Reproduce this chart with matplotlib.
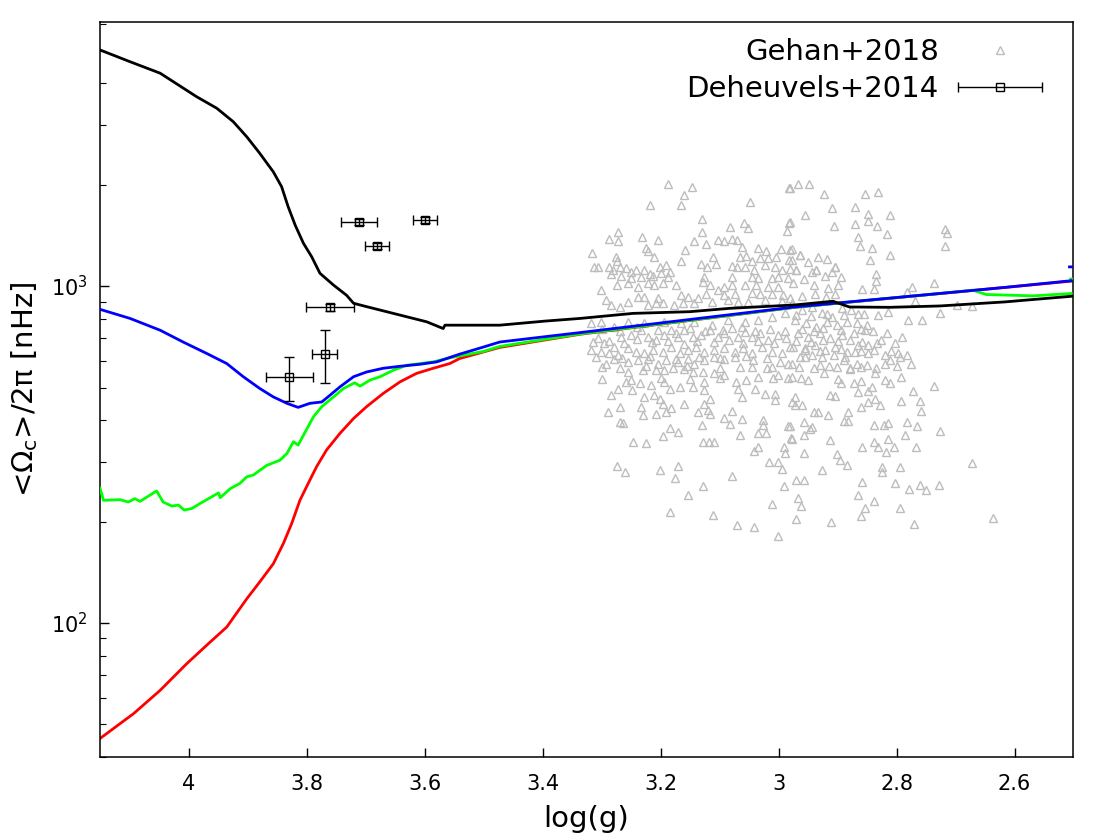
import numpy as np
import matplotlib
matplotlib.use("Agg")
import matplotlib.pyplot as plt
from matplotlib.ticker import NullFormatter
from matplotlib.legend_handler import HandlerErrorbar

# ---------------- data ----------------
# model tracks: log(g) and log10(<Omega_c>/2pi [nHz])
black_logg = [4.151, 4.100, 4.049, 3.987, 3.953, 3.925, 3.902, 3.880, 3.857, 3.843, 3.832, 3.820,
              3.806, 3.792, 3.778, 3.755, 3.733, 3.721, 3.699, 3.665, 3.631, 3.597, 3.569, 3.566,
              3.541, 3.473, 3.397, 3.337, 3.247, 3.151, 3.083, 2.973, 2.908, 2.880, 2.812, 2.727,
              2.654, 2.617, 2.502]
black_log_rot = [3.701, 3.666, 3.632, 3.562, 3.528, 3.488, 3.443, 3.394, 3.339, 3.295, 3.236, 3.181,
                 3.127, 3.087, 3.038, 3.003, 2.973, 2.949, 2.939, 2.924, 2.909, 2.894, 2.874, 2.884,
                 2.884, 2.884, 2.896, 2.904, 2.919, 2.924, 2.934, 2.944, 2.955, 2.938, 2.937, 2.941,
                 2.949, 2.953, 2.970]

blue_logg = [4.151, 4.100, 4.049, 4.010, 3.970, 3.936, 3.908, 3.880, 3.857, 3.834, 3.815, 3.795,
             3.775, 3.761, 3.744, 3.721, 3.699, 3.671, 3.642, 3.608, 3.580, 3.541, 3.501, 3.473,
             3.337, 2.973, 2.617, 2.504, np.nan, 2.507, 2.501]
blue_log_rot = [2.931, 2.904, 2.869, 2.834, 2.800, 2.770, 2.731, 2.696, 2.671, 2.652, 2.640, 2.652,
                2.656, 2.676, 2.701, 2.731, 2.745, 2.756, 2.762, 2.768, 2.775, 2.798, 2.819, 2.834,
                2.862, 2.938, 2.996, 3.016, np.nan, 3.057, 3.057]

green_logg = [4.151, 4.145, 4.117, 4.103, 4.092, 4.083, 4.055, 4.044, 4.029, 4.018, 4.008, 3.995,
              3.981, 3.950, 3.947, 3.930, 3.914, 3.902, 3.891, 3.880, 3.868, 3.846, 3.834, 3.823,
              3.815, 3.803, 3.789, 3.775, 3.755, 3.738, 3.719, 3.710, 3.693, 3.676, 3.654, 3.631,
              3.586, 3.558, 3.501, 3.473, 3.337, 2.973, 2.680, 2.671, 2.648, 2.569, 2.504, np.nan,
              2.505, 2.501]
green_log_rot = [2.400, 2.364, 2.366, 2.359, 2.369, 2.361, 2.392, 2.359, 2.347, 2.350, 2.335, 2.340,
                 2.355, 2.386, 2.372, 2.399, 2.414, 2.434, 2.439, 2.453, 2.468, 2.483, 2.503, 2.538,
                 2.528, 2.567, 2.612, 2.642, 2.671, 2.696, 2.713, 2.703, 2.721, 2.731, 2.750, 2.765,
                 2.775, 2.787, 2.806, 2.821, 2.858, 2.937, 2.986, 2.988, 2.975, 2.971, 2.978, np.nan,
                 3.021, 3.021]

red_logg = [4.151, 4.094, 4.049, 4.004, 3.970, 3.936, 3.902, 3.880, 3.857, 3.840, 3.826, 3.812,
            3.798, 3.784, 3.767, 3.744, 3.721, 3.699, 3.671, 3.642, 3.614, 3.586, 3.558, 3.541,
            3.473, 3.337, 2.973, 2.502]
red_log_rot = [1.657, 1.731, 1.800, 1.879, 1.934, 1.988, 2.072, 2.122, 2.176, 2.236, 2.295, 2.364,
               2.414, 2.463, 2.513, 2.563, 2.607, 2.642, 2.681, 2.716, 2.741, 2.756, 2.770, 2.785,
               2.818, 2.857, 2.937, 3.015]

# Deheuvels+2014
deh_logg = [3.712, 3.600, 3.681, 3.761, 3.770, 3.830]
deh_logg_err = [0.031, 0.021, 0.020, 0.040, 0.021, 0.040]
deh_rot = [1551, 1570, 1316, 866, 628, 536]
deh_rot_err = [30, 30, 25, 20, 111, 80]

# Gehan+2018: log(g) and log10(rotation [nHz])
gehan_logg = [
    3.187, 3.147, 3.161, 2.982, 3.218, 3.165, 3.048, 3.130, 3.059, 3.083, 3.052, 2.982, 2.986, 3.272,
    3.130, 3.287, 3.272, 3.232, 3.204, 3.143, 3.123, 3.103, 3.092, 3.080, 3.070, 3.317, 3.225, 3.222,
    3.159, 3.063, 3.035, 3.022, 2.996, 2.981, 3.211, 3.276, 3.274, 3.165, 3.111, 3.106, 3.066, 3.055,
    3.046, 3.032, 3.018, 3.004, 2.983, 3.313, 3.307, 3.287, 3.281, 3.270, 3.259, 3.250, 3.242, 3.228,
    3.219, 3.202, 3.192, 3.185, 3.131, 3.121, 3.079, 3.070, 3.058, 3.042, 3.024, 3.007, 2.995, 2.981,
    3.285, 3.267, 3.250, 3.233, 3.213, 3.199, 3.188, 3.126, 3.079, 3.046, 3.035, 3.012, 3.001, 2.985,
    3.274, 3.256, 3.239, 3.222, 3.211, 3.196, 3.175, 3.128, 3.117, 3.092, 3.080, 3.058, 3.038, 3.018,
    3.001, 3.301, 3.239, 3.228, 3.205, 3.165, 3.154, 3.137, 3.123, 3.103, 3.092, 3.075, 3.046, 3.032,
    3.012, 2.992, 3.293, 3.284, 3.270, 3.256, 3.222, 3.208, 3.196, 3.177, 3.162, 3.143, 3.114, 3.086,
    3.069, 3.052, 3.024, 2.995, 2.981,
    3.318, 3.301, 3.279, 3.256, 3.228, 3.194, 3.165, 3.143, 3.114, 3.086, 3.058, 3.035, 3.012, 2.989,
    3.307, 3.296, 3.279, 3.267, 3.250, 3.233, 3.222, 3.208, 3.194, 3.182, 3.171, 3.160, 3.145, 3.131,
    3.117, 3.103, 3.092, 3.080, 3.069, 3.058, 3.046, 3.032, 3.018, 3.001, 2.987,
    3.318, 3.301, 3.287, 3.273, 3.256, 3.242, 3.228, 3.213, 3.196, 3.182, 3.168, 3.154, 3.140, 3.126,
    3.109, 3.092, 3.075, 3.060, 3.046, 3.029, 3.012, 2.995, 2.981,
    2.967, 2.949, 2.981, 2.924, 2.854, 2.831, 2.909, 2.871, 2.956, 2.849, 2.811, 2.981, 2.906, 2.871,
    2.848, 2.834, 2.718, 2.715, 2.865, 2.817, 2.862, 2.842, 2.718, 2.977, 2.811, 2.978, 2.950, 2.933,
    2.919, 2.845, 2.944, 2.910, 2.894, 2.835, 2.975, 2.958, 2.941, 2.922, 2.916, 2.899, 2.835, 2.859,
    2.839, 2.774, 2.736, 2.783, 2.769, 2.961, 2.939, 2.920, 2.905, 2.698, 2.672, 2.726, 2.780, 2.757,
    2.831, 2.814, 2.856, 2.877, 2.893, 2.970, 2.936, 2.905, 2.964,
    2.978, 2.961, 2.944, 2.927, 2.910, 2.973, 2.953, 2.936, 2.919, 2.902, 2.885, 2.868, 2.851, 2.967,
    2.950, 2.930, 2.913, 2.893, 2.873, 2.854, 2.817, 2.791, 2.975, 2.956, 2.939, 2.922, 2.905, 2.885,
    2.865, 2.848, 2.834, 2.803, 2.783, 2.797, 2.964, 2.944, 2.927, 2.907, 2.888, 2.871, 2.848, 2.820,
    3.293, 3.279, 3.256, 3.239, 3.222, 3.205, 3.191, 3.171, 3.154, 3.143, 3.126, 3.109, 3.092, 3.075,
    3.043, 2.998, 2.984, 3.256, 3.230, 3.208, 3.194, 3.160, 3.145, 3.128, 3.109, 3.092, 3.066, 3.012,
    3.001, 2.984, 3.035, 3.259, 3.236, 3.273, 3.216, 3.194, 3.185, 3.168, 3.145, 3.126, 3.126, 3.072,
    3.069, 3.040, 3.024, 3.007, 3.284, 3.248, 3.228, 3.211, 3.202, 3.117, 3.063, 3.007, 2.978, 3.270,
    3.233, 3.196, 3.182, 3.161, 3.126, 3.137, 3.120, 3.289, 3.231, 3.208, 3.191, 3.117, 3.079, 3.092,
    3.063, 3.270, 3.264, 3.130, 3.083, 3.026, 3.026, 3.185, 3.171, 3.196, 3.035, 3.021, 2.984, 3.066,
    3.247, 3.225, 3.128, 3.119, 3.109, 2.979, 3.035, 3.042, 2.991, 2.990, 3.017, 3.001, 2.994, 3.274,
    3.260, 3.201, 3.170, 3.176, 3.080, 3.128, 2.991, 3.154, 3.012, 3.184, 3.111, 3.071, 3.042, 3.001,
    2.978, 2.956, 2.930, 2.923, 2.902, 2.890, 2.879, 2.868, 2.851, 2.837, 2.820, 2.811, 2.794, 2.775,
    2.978, 2.962, 2.894, 2.873, 2.842, 2.811, 2.792, 2.736, 2.865, 2.849, 2.773, 2.973, 2.913, 2.905,
    2.837, 2.792, 2.760, 2.973, 2.960, 2.860, 2.848, 2.828, 2.941, 2.933, 2.917, 2.883, 2.759, 2.890,
    2.883, 2.981, 2.957, 2.947, 2.944, 2.839, 2.822, 2.815, 2.783, 2.766, 2.726, 2.977, 2.958, 2.913,
    2.786, 2.858, 2.838, 2.832, 2.814, 2.818, 2.805, 2.767, 2.958, 2.902, 2.896, 2.885, 2.927, 2.825,
    2.825, 2.794, 2.672, 2.970, 2.958, 2.858, 2.803, 2.779, 2.760, 2.750, 2.729, 2.967, 2.962, 2.866,
    2.839, 2.854, 2.860, 2.794, 2.970, 2.911, 2.771, 2.637,
    2.970, 2.936, 2.905, 2.964]
gehan_log_rot = [
    3.302, 3.295, 3.271, 3.290, 3.242, 3.242, 3.249, 3.198, 3.188, 3.174, 3.171, 3.188, 3.164, 3.161,
    3.161, 3.140, 3.134, 3.146, 3.137, 3.134, 3.125, 3.137, 3.134, 3.140, 3.137, 3.097, 3.114, 3.105,
    3.106, 3.115, 3.112, 3.104, 3.109, 3.107, 3.087, 3.085, 3.075, 3.075, 3.085, 3.066, 3.085, 3.089,
    3.075, 3.083, 3.083, 3.085, 3.078, 3.056, 3.056, 3.058, 3.048, 3.056, 3.053, 3.043, 3.048, 3.048,
    3.036, 3.058, 3.063, 3.043, 3.066, 3.058, 3.061, 3.056, 3.056, 3.048, 3.063, 3.056, 3.048, 3.050,
    3.036, 3.030, 3.023, 3.028, 3.030, 3.038, 3.028, 3.028, 3.028, 3.028, 3.023, 3.023, 3.028, 3.023,
    3.003, 3.008, 2.998, 3.008, 3.003, 3.008, 3.003, 3.013, 3.003, 2.998, 3.003, 3.003, 3.003, 2.996,
    2.998, 2.988, 2.969, 2.969, 2.964, 2.974, 2.969, 2.964, 2.978, 2.988, 2.974, 2.978, 2.980, 2.978,
    2.978, 2.974, 2.959, 2.944, 2.939, 2.954, 2.944, 2.949, 2.949, 2.944, 2.951, 2.951, 2.954, 2.959,
    2.954, 2.954, 2.959, 2.957, 2.964,
    2.889, 2.894, 2.880, 2.894, 2.889, 2.894, 2.889, 2.894, 2.884, 2.899, 2.894, 2.899, 2.909, 2.919,
    2.845, 2.830, 2.820, 2.850, 2.855, 2.870, 2.850, 2.840, 2.855, 2.870, 2.850, 2.870, 2.850, 2.855,
    2.870, 2.850, 2.860, 2.875, 2.850, 2.865, 2.850, 2.860, 2.840, 2.855, 2.845,
    2.810, 2.805, 2.800, 2.795, 2.815, 2.805, 2.800, 2.810, 2.805, 2.820, 2.800, 2.810, 2.820, 2.805,
    2.810, 2.815, 2.805, 2.815, 2.800, 2.820, 2.805, 2.800, 2.820,
    3.302, 3.302, 3.290, 3.274, 3.274, 3.278, 3.231, 3.236, 3.211, 3.214, 3.211, 3.189, 3.179, 3.185,
    3.192, 3.179, 3.169, 3.157, 3.145, 3.155, 3.119, 3.112, 3.119, 3.109, 3.093, 3.078, 3.073, 3.086,
    3.080, 3.076, 3.043, 3.043, 3.026, 3.036, 3.008, 3.020, 3.003, 3.030, 2.994, 3.003, 3.016, 2.991,
    2.991, 2.997, 3.008, 2.981, 2.957, 2.971, 2.977, 2.967, 2.977, 2.944, 2.941, 2.919, 2.898, 2.898,
    2.914, 2.924, 2.917, 2.929, 2.934, 3.048, 3.048, 3.058, 3.093,
    2.949, 2.929, 2.939, 2.919, 2.909, 2.899, 2.889, 2.880, 2.894, 2.885, 2.894, 2.889, 2.885, 2.860,
    2.850, 2.860, 2.845, 2.855, 2.860, 2.870, 2.860, 2.850, 2.820, 2.815, 2.825, 2.810, 2.820, 2.805,
    2.825, 2.825, 2.830, 2.830, 2.796, 2.800, 2.791, 2.796, 2.791, 2.796, 2.791, 2.805, 2.800, 2.796,
    2.770, 2.785, 2.775, 2.780, 2.785, 2.770, 2.780, 2.775, 2.785, 2.770, 2.780, 2.790, 2.785, 2.790,
    2.780, 2.775, 2.770, 2.745, 2.750, 2.750, 2.750, 2.755, 2.745, 2.745, 2.741, 2.736, 2.760, 2.760,
    2.736, 2.726, 2.731, 2.716, 2.711, 2.696, 2.706, 2.716, 2.696, 2.701, 2.701, 2.716, 2.691, 2.716,
    2.696, 2.696, 2.681, 2.681, 2.676, 2.691, 2.671, 2.676, 2.666, 2.666, 2.671, 2.661, 2.656, 2.642,
    2.642, 2.651, 2.637, 2.649, 2.651, 2.627, 2.632, 2.627, 2.617, 2.619, 2.627, 2.619, 2.629, 2.609,
    2.605, 2.597, 2.595, 2.589, 2.592, 2.602, 2.587, 2.579, 2.567, 2.555, 2.565, 2.565, 2.585, 2.557,
    2.538, 2.535, 2.536, 2.536, 2.536, 2.550, 2.523, 2.510, 2.523, 2.506, 2.478, 2.478, 2.456, 2.466,
    2.447, 2.453, 2.466, 2.431, 2.437, 2.407, 2.407, 2.381, 2.352, 2.330, 2.320, 2.290, 2.285, 2.258,
    2.770, 2.790, 2.765, 2.741, 2.760, 2.780, 2.755, 2.770, 2.765, 2.741, 2.770, 2.780, 2.790, 2.770,
    2.731, 2.726, 2.711, 2.711, 2.701, 2.711, 2.731, 2.703, 2.686, 2.688, 2.688, 2.671, 2.676, 2.674,
    2.666, 2.658, 2.658, 2.648, 2.648, 2.642, 2.656, 2.648, 2.625, 2.625, 2.617, 2.625, 2.629, 2.599,
    2.601, 2.584, 2.597, 2.577, 2.582, 2.587, 2.587, 2.595, 2.597, 2.585, 2.571, 2.547, 2.557, 2.543,
    2.559, 2.523, 2.538, 2.523, 2.545, 2.508, 2.523, 2.523, 2.505, 2.503, 2.483, 2.468, 2.453, 2.463,
    2.447, 2.463, 2.476, 2.424, 2.424, 2.419, 2.416, 2.399, 2.411, 2.394, 2.411, 2.371, 2.348, 2.381,
    2.361, 2.340, 2.318, 2.340, 2.308, 2.300, 2.295, 2.312,
    3.048, 3.048, 3.058, 3.093]

# Gehan+2018, densest part of the cloud
gehan_dense_logg = [
    3.300, 3.270, 3.240, 3.205, 3.175, 3.150, 3.125, 3.095, 3.063, 3.040, 3.015, 2.990,
    3.315, 3.288, 3.262, 3.240, 3.215, 3.188, 3.160, 3.138, 3.110, 3.085, 3.060, 3.035, 3.008,
    3.310, 3.265, 3.218, 3.175, 3.135, 3.100, 3.055, 3.020,
    3.300, 3.270, 3.225, 3.180, 3.155, 3.100, 3.045, 3.020,
    3.300, 3.250, 3.200, 3.150, 3.100, 3.055, 3.010,
    2.970, 2.945, 2.918, 2.890, 2.865,
    2.960, 2.940, 2.925, 2.895, 2.860, 2.840,
    2.970, 2.945, 2.925, 2.900, 2.880, 2.858, 2.826,
    2.955, 2.930, 2.895, 2.860, 2.838, 2.810,
    2.965, 2.940, 2.915, 2.880, 2.860, 2.835, 2.800,
    2.950, 2.900, 2.860, 2.820]
gehan_dense_log_rot = [
    2.872, 2.866, 2.878, 2.869, 2.862, 2.876, 2.866, 2.871, 2.879, 2.868, 2.874, 2.866,
    2.835, 2.838, 2.830, 2.842, 2.833, 2.836, 2.829, 2.838, 2.834, 2.840, 2.831, 2.836, 2.832,
    2.790, 2.786, 2.792, 2.785, 2.791, 2.787, 2.793, 2.788,
    2.760, 2.757, 2.763, 2.758, 2.762, 2.756, 2.761, 2.757,
    2.725, 2.722, 2.728, 2.724, 2.727, 2.721, 2.726,
    2.915, 2.912, 2.918, 2.913, 2.916,
    2.872, 2.868, 2.876, 2.870, 2.874, 2.867,
    2.838, 2.835, 2.841, 2.836, 2.839, 2.834, 2.840,
    2.810, 2.807, 2.812, 2.806, 2.811, 2.808,
    2.760, 2.757, 2.763, 2.758, 2.761, 2.756, 2.762,
    2.720, 2.724, 2.718, 2.722]

x_ticks = [4, 3.8, 3.6, 3.4, 3.2, 3, 2.8, 2.6]
x_tick_labels = ["4", "3.8", "3.6", "3.4", "3.2", "3", "2.8", "2.6"]

# ---------------- plot ----------------
fig = plt.figure(figsize=(11.11, 8.34), dpi=100)
ax = fig.add_axes([0.090, 0.0923, 0.8758, 0.8813])

n = min(len(gehan_logg), len(gehan_log_rot))
m = min(len(gehan_dense_logg), len(gehan_dense_log_rot))
g_x = np.concatenate([np.array(gehan_logg[:n]), np.array(gehan_dense_logg[:m])])
g_y = 10 ** np.concatenate([np.array(gehan_log_rot[:n]), np.array(gehan_dense_log_rot[:m])])
ax.plot(g_x, g_y, linestyle="none",
        marker="^", markersize=6, markerfacecolor="none", markeredgecolor="#bdbdbd",
        markeredgewidth=1.0, label="Gehan+2018", zorder=1)

lw = 2.0
ax.plot(red_logg, 10 ** np.array(red_log_rot), color="#ff0000", lw=lw, zorder=2)
ax.plot(green_logg, 10 ** np.array(green_log_rot), color="#00ff00", lw=lw, zorder=3)
ax.plot(blue_logg, 10 ** np.array(blue_log_rot), color="#0000ff", lw=lw, zorder=4)
ax.plot(black_logg, 10 ** np.array(black_log_rot), color="black", lw=lw, zorder=5)

ax.errorbar(deh_logg, deh_rot, yerr=deh_rot_err, fmt="none", ecolor="black",
            elinewidth=1.0, capsize=3.5, capthick=1.0, zorder=6)
deh = ax.errorbar(deh_logg, deh_rot, xerr=deh_logg_err, fmt="s", color="black",
                  markersize=6, markerfacecolor="none", markeredgecolor="black",
                  markeredgewidth=1.0, elinewidth=1.0, capsize=3.5, capthick=1.0,
                  label="Deheuvels+2014", zorder=7)

ax.set_yscale("log")
ax.set_xlim(4.151, 2.501)
ax.set_ylim(40, 6080)
ax.set_xticks(x_ticks)
ax.set_xticklabels(x_tick_labels)
ax.yaxis.set_minor_formatter(NullFormatter())

ax.tick_params(which="both", direction="in", top=False, right=False, labelsize=15)
ax.tick_params(axis="x", which="major", length=6.5, width=1.0, pad=12)
ax.tick_params(axis="y", which="major", length=6.7, width=1.0, pad=9)
ax.tick_params(axis="y", which="minor", length=4.3, width=0.8)
for s in ax.spines.values():
    s.set_linewidth(1.1)

ax.set_xlabel("log(g)", fontsize=21, labelpad=8)
ax.set_ylabel(r"<$\Omega_{\rm c}$>/2π [nHz]", fontsize=21, labelpad=8)

ax.legend(loc="upper right", bbox_to_anchor=(0.982, 0.994), borderaxespad=0.0,
          frameon=False, markerfirst=False, fontsize=21, handlelength=3.0,
          handletextpad=0.6, labelspacing=0.3,
          handler_map={type(deh): HandlerErrorbar(xerr_size=1.45)})

fig.savefig("out.png", dpi=100)
